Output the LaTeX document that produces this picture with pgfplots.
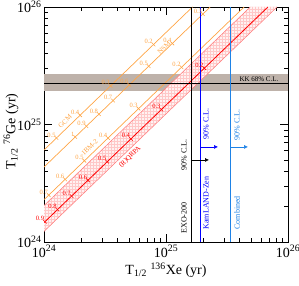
\documentclass[border=0pt]{standalone}
\usepackage{fontspec}
\setmainfont{Liberation Serif}
\usepackage{pgfplots}
\pgfplotsset{compat=1.18}
\usetikzlibrary{patterns,arrows.meta}
\definecolor{orng}{RGB}{255,165,70}
\definecolor{kkband}{RGB}{190,178,170}
\definecolor{combblue}{RGB}{30,130,230}
\definecolor{bandred}{RGB}{255,120,120}
\definecolor{hatchred}{RGB}{255,200,200}
\begin{document}
\begin{tikzpicture}
\useasboundingbox (-44pt,-43pt) rectangle (255pt,242pt);
\begin{axis}[at={(0,0)}, anchor=south west, scale only axis, width=244pt, height=235pt,
  xmode=log, ymode=log, xmin=1e24, xmax=1e26, ymin=1e24, ymax=1e26,
  xtick={1e24,1e25,1e26}, ytick={1e24,1e25,1e26},
  xticklabels={10\textsuperscript{24},10\textsuperscript{25},10\textsuperscript{26}},
  yticklabels={10\textsuperscript{24},10\textsuperscript{25},10\textsuperscript{26}},
  minor xtick={2e24,3e24,4e24,5e24,6e24,7e24,8e24,9e24,2e25,3e25,4e25,5e25,6e25,7e25,8e25,9e25},
  minor ytick={2e24,3e24,4e24,5e24,6e24,7e24,8e24,9e24,2e25,3e25,4e25,5e25,6e25,7e25,8e25,9e25},
  tick label style={font=\fontsize{14}{16}\selectfont},
  yticklabel style={xshift=1pt},
  major tick length=8pt, minor tick length=4pt, tick align=inside,
  xlabel={T\textsubscript{1/2} \textsuperscript{136}Xe (yr)},
  ylabel={T\textsubscript{1/2} \textsuperscript{76}Ge (yr)},
  label style={font=\fontsize{14}{16}\selectfont},
  xlabel style={at={(axis description cs:0.5,-0.12)}, anchor=center},
  ylabel style={at={(axis description cs:-0.135,0.47)}, anchor=center},
  axis line style={line width=0.6pt},
  every tick/.style={line width=0.5pt, black},
]
% KK band
\addplot[fill=kkband, draw=none] coordinates {(1e24,1.92e25) (1e26,1.92e25) (1e26,2.67e25) (1e24,2.67e25)} -- cycle;
% red band
\addplot[fill=red!5, draw=none] coordinates {(1e24,1.23e24) (1e24,2.042e24) (4.898e25,1e26) (8.128e25,1e26)} -- cycle;
\addplot[pattern=grid, pattern color=hatchred, draw=none] coordinates {(1e24,1.23e24) (1e24,2.042e24) (4.898e25,1e26) (8.128e25,1e26)} -- cycle;
\addplot[bandred, line width=0.5pt] coordinates {(1e24,2.042e24) (4.898e25,1e26)};
\addplot[bandred, line width=0.5pt] coordinates {(1e24,1.23e24) (8.128e25,1e26)};
% orange lines
\addplot[orng, line width=0.7pt] coordinates {(1e24,6.067e24) (1.648e25,1e26)};
\addplot[orng, line width=0.7pt] coordinates {(1e24,4.345e24) (2.301e25,1e26)};
\addplot[orng, line width=0.7pt] coordinates {(1e24,2.291e24) (4.365e25,1e26)};
% red centre
\addplot[red, line width=0.8pt] coordinates {(1e24,1.462e24) (6.84e25,1e26)};
% KK line
\addplot[black, line width=0.6pt] coordinates {(1e24,2.23e25) (1e26,2.23e25)};
% tick marks on lines
\pgfplotsset{linetick/.style={only marks, mark=|, mark size=2.5pt, mark options={rotate=45, line width=0.6pt},
  nodes near coords, point meta=explicit symbolic,
  every node near coord/.append style={font=\fontsize{6.5}{7}\selectfont, anchor=south east, inner sep=0.6pt}}}
\addplot[orng, linetick, every node near coord/.append style={text=orng}] table[meta=l] {
x y l
1.264e24 7.67e24 0.5
1.975e24 1.198e25 0.4
3.512e24 2.131e25 0.3
7.90e24 4.794e25 0.2
};
\addplot[orng, linetick, every node near coord/.append style={text=orng}] table[meta=l] {
x y l
1.802e24 7.83e24 1
2.225e24 9.667e24 0.9
2.816e24 1.2234e25 0.8
3.678e24 1.598e25 0.7
5.006e24 2.175e25 0.6
7.208e24 3.132e25 0.5
1.126e25 4.894e25 0.4
2.002e25 8.70e25 0.3
};
\addplot[orng, linetick, every node near coord/.append style={text=orng}] table[meta=l] {
x y l
1.093e24 2.504e24 0.7
1.488e24 3.409e24 0.6
2.143e24 4.909e24 0.5
3.348e24 7.67e24 0.4
5.952e24 1.3636e25 0.3
1.339e25 3.068e25 0.2
};
\addplot[red, linetick, every node near coord/.append style={text=red}] table[meta=l] {
x y l
1.017e24 1.487e24 0.9
1.2876e24 1.8825e24 0.8
1.682e24 2.459e24 0.7
2.289e24 3.347e24 0.6
3.296e24 4.819e24 0.5
5.150e24 7.53e24 0.4
9.156e24 1.3387e25 0.3
2.060e25 3.012e25 0.2
};
% vertical limits
\addplot[black, line width=0.8pt] coordinates {(1.6e25,1e24) (1.6e25,1e26)};
\addplot[blue, line width=0.8pt] coordinates {(1.9e25,1e24) (1.9e25,1e26)};
\addplot[combblue, line width=0.8pt] coordinates {(3.4e25,1e24) (3.4e25,1e26)};
\addplot[black, line width=0.6pt, -{Latex[length=4pt,width=4pt]}] coordinates {(1.6e25,4.99e24) (2.25e25,4.99e24)};
\addplot[blue, line width=0.6pt, -{Latex[length=4pt,width=4pt]}] coordinates {(1.9e25,6.44e24) (2.67e25,6.44e24)};
\addplot[combblue, line width=0.6pt, -{Latex[length=4pt,width=4pt]}] coordinates {(3.4e25,6.44e24) (4.7e25,6.44e24)};
% texts
\node[font=\fontsize{8}{9}\selectfont, rotate=90] at (axis cs:1.405e25,5.5e24) {90\% C.L.};
\node[font=\fontsize{8}{9}\selectfont, rotate=90] at (axis cs:1.405e25,1.6e24) {EXO-200};
\node[font=\fontsize{8}{9}\selectfont, rotate=90, text=blue] at (axis cs:2.13e25,1.01e25) {90\% C.L.};
\node[font=\fontsize{8}{9}\selectfont, rotate=90, text=blue] at (axis cs:2.13e25,2.15e24) {KamLAND-Zen};
\node[font=\fontsize{8}{9}\selectfont, rotate=90, text=combblue] at (axis cs:3.82e25,9.9e24) {90\% C.L.};
\node[font=\fontsize{8}{9}\selectfont, rotate=90, text=combblue] at (axis cs:3.82e25,1.77e24) {Combined};
\node[font=\fontsize{7}{8}\selectfont] at (axis cs:5.78e25,2.44e25) {KK 68\% C.L.};
\node[font=\fontsize{7}{8}\selectfont, rotate=44, text=orng] at (axis cs:1.486e24,1.06e25) {GCM};
\node[font=\fontsize{7}{8}\selectfont, rotate=44, text=orng] at (axis cs:9.64e24,4.48e25) {NSM};
\node[font=\fontsize{7}{8}\selectfont, rotate=44, text=orng] at (axis cs:2.38e24,6.44e24) {IBM-2};
\node[font=\fontsize{7}{8}\selectfont, rotate=44, text=red] at (axis cs:5.07e24,5.28e24) {(R)QRPA};
\end{axis}
\end{tikzpicture}
\end{document}
